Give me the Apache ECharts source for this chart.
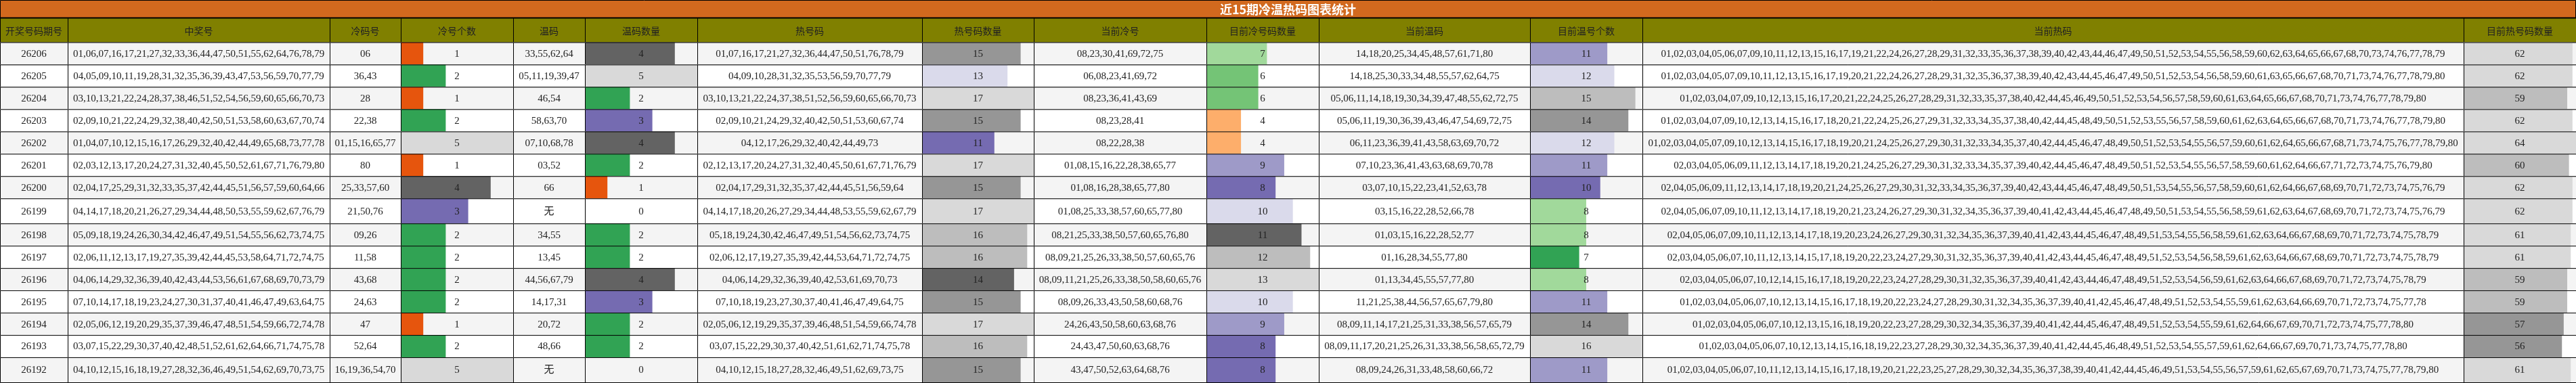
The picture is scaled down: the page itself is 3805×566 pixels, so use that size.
<!DOCTYPE html>
<html>
<head>
<meta charset="utf-8">
<title>近15期冷温热码图表统计</title>
<script src="https://cdn.jsdelivr.net/npm/echarts@6/dist/echarts.min.js"></script>
<style>
html, body { margin: 0; padding: 0; background: #fff; }
#main { width: 3805px; height: 566px; }
</style>
</head>
<body>
<div id="main"></div>
<script>
// 标题和表头
var tableTitle = '近15期冷温热码图表统计';
var headers = ['开奖号码期号', '中奖号', '冷码号', '冷号个数', '温码', '温码数量', '热号码', '热号码数量',
    '当前冷号', '目前冷号码数量', '当前温码', '目前温号个数', '当前热码', '目前热号码数量'];

// 期号
var issues = ['26206', '26205', '26204', '26203', '26202', '26201', '26200', '26199',
    '26198', '26197', '26196', '26195', '26194', '26193', '26192'];

// 中奖号
var winNums = [
    '01,06,07,16,17,21,27,32,33,36,44,47,50,51,55,62,64,76,78,79',
    '04,05,09,10,11,19,28,31,32,35,36,39,43,47,53,56,59,70,77,79',
    '03,10,13,21,22,24,28,37,38,46,51,52,54,56,59,60,65,66,70,73',
    '02,09,10,21,22,24,29,32,38,40,42,50,51,53,58,60,63,67,70,74',
    '01,04,07,10,12,15,16,17,26,29,32,40,42,44,49,65,68,73,77,78',
    '02,03,12,13,17,20,24,27,31,32,40,45,50,52,61,67,71,76,79,80',
    '02,04,17,25,29,31,32,33,35,37,42,44,45,51,56,57,59,60,64,66',
    '04,14,17,18,20,21,26,27,29,34,44,48,50,53,55,59,62,67,76,79',
    '05,09,18,19,24,26,30,34,42,46,47,49,51,54,55,56,62,73,74,75',
    '02,06,11,12,13,17,19,27,35,39,42,44,45,53,58,64,71,72,74,75',
    '04,06,14,29,32,36,39,40,42,43,44,53,56,61,67,68,69,70,73,79',
    '07,10,14,17,18,19,23,24,27,30,31,37,40,41,46,47,49,63,64,75',
    '02,05,06,12,19,20,29,35,37,39,46,47,48,51,54,59,66,72,74,78',
    '03,07,15,22,29,30,37,40,42,48,51,52,61,62,64,66,71,74,75,78',
    '04,10,12,15,16,18,19,27,28,32,36,46,49,51,54,62,69,70,73,75'
];

// 冷码号 / 冷号个数
var coldNums = ['06', '36,43', '28', '22,38', '01,15,16,65,77', '80', '25,33,57,60', '21,50,76',
    '09,26', '11,58', '43,68', '24,63', '47', '52,64', '16,19,36,54,70'];
var coldCount = [1, 2, 1, 2, 5, 1, 4, 3, 2, 2, 2, 2, 1, 2, 5];

// 温码 / 温码数量
var warmNums = ['33,55,62,64', '05,11,19,39,47', '46,54', '58,63,70', '07,10,68,78', '03,52', '66', '无',
    '34,55', '13,45', '44,56,67,79', '14,17,31', '20,72', '48,66', '无'];
var warmCount = [4, 5, 2, 3, 4, 2, 1, 0, 2, 2, 4, 3, 2, 2, 0];

// 热号码 / 热号码数量
var hotNums = [
    '01,07,16,17,21,27,32,36,44,47,50,51,76,78,79',
    '04,09,10,28,31,32,35,53,56,59,70,77,79',
    '03,10,13,21,22,24,37,38,51,52,56,59,60,65,66,70,73',
    '02,09,10,21,24,29,32,40,42,50,51,53,60,67,74',
    '04,12,17,26,29,32,40,42,44,49,73',
    '02,12,13,17,20,24,27,31,32,40,45,50,61,67,71,76,79',
    '02,04,17,29,31,32,35,37,42,44,45,51,56,59,64',
    '04,14,17,18,20,26,27,29,34,44,48,53,55,59,62,67,79',
    '05,18,19,24,30,42,46,47,49,51,54,56,62,73,74,75',
    '02,06,12,17,19,27,35,39,42,44,53,64,71,72,74,75',
    '04,06,14,29,32,36,39,40,42,53,61,69,70,73',
    '07,10,18,19,23,27,30,37,40,41,46,47,49,64,75',
    '02,05,06,12,19,29,35,37,39,46,48,51,54,59,66,74,78',
    '03,07,15,22,29,30,37,40,42,51,61,62,71,74,75,78',
    '04,10,12,15,18,27,28,32,46,49,51,62,69,73,75'
];
var hotCount = [15, 13, 17, 15, 11, 17, 15, 17, 16, 16, 14, 15, 17, 16, 15];

// 当前冷号 / 目前冷号码数量
var curCold = [
    '08,23,30,41,69,72,75',
    '06,08,23,41,69,72',
    '08,23,36,41,43,69',
    '08,23,28,41',
    '08,22,28,38',
    '01,08,15,16,22,28,38,65,77',
    '01,08,16,28,38,65,77,80',
    '01,08,25,33,38,57,60,65,77,80',
    '08,21,25,33,38,50,57,60,65,76,80',
    '08,09,21,25,26,33,38,50,57,60,65,76',
    '08,09,11,21,25,26,33,38,50,58,60,65,76',
    '08,09,26,33,43,50,58,60,68,76',
    '24,26,43,50,58,60,63,68,76',
    '24,43,47,50,60,63,68,76',
    '43,47,50,52,63,64,68,76'
];
var curColdCount = [7, 6, 6, 4, 4, 9, 8, 10, 11, 12, 13, 10, 9, 8, 8];

// 当前温码 / 目前温号个数
var curWarm = [
    '14,18,20,25,34,45,48,57,61,71,80',
    '14,18,25,30,33,34,48,55,57,62,64,75',
    '05,06,11,14,18,19,30,34,39,47,48,55,62,72,75',
    '05,06,11,19,30,36,39,43,46,47,54,69,72,75',
    '06,11,23,36,39,41,43,58,63,69,70,72',
    '07,10,23,36,41,43,63,68,69,70,78',
    '03,07,10,15,22,23,41,52,63,78',
    '03,15,16,22,28,52,66,78',
    '01,03,15,16,22,28,52,77',
    '01,16,28,34,55,77,80',
    '01,13,34,45,55,57,77,80',
    '11,21,25,38,44,56,57,65,67,79,80',
    '08,09,11,14,17,21,25,31,33,38,56,57,65,79',
    '08,09,11,17,20,21,25,26,31,33,38,56,58,65,72,79',
    '08,09,24,26,31,33,48,58,60,66,72'
];
var curWarmCount = [11, 12, 15, 14, 12, 11, 10, 8, 8, 7, 8, 11, 14, 16, 11];

// 当前热码 / 目前热号码数量
var curHot = [
    '01,02,03,04,05,06,07,09,10,11,12,13,15,16,17,19,21,22,24,26,27,28,29,31,32,33,35,36,37,38,39,40,42,43,44,46,47,49,50,51,52,53,54,55,56,58,59,60,62,63,64,65,66,67,68,70,73,74,76,77,78,79',
    '01,02,03,04,05,07,09,10,11,12,13,15,16,17,19,20,21,22,24,26,27,28,29,31,32,35,36,37,38,39,40,42,43,44,45,46,47,49,50,51,52,53,54,56,58,59,60,61,63,65,66,67,68,70,71,73,74,76,77,78,79,80',
    '01,02,03,04,07,09,10,12,13,15,16,17,20,21,22,24,25,26,27,28,29,31,32,33,35,37,38,40,42,44,45,46,49,50,51,52,53,54,56,57,58,59,60,61,63,64,65,66,67,68,70,71,73,74,76,77,78,79,80',
    '01,02,03,04,07,09,10,12,13,14,15,16,17,18,20,21,22,24,25,26,27,29,31,32,33,34,35,37,38,40,42,44,45,48,49,50,51,52,53,55,56,57,58,59,60,61,62,63,64,65,66,67,68,70,71,73,74,76,77,78,79,80',
    '01,02,03,04,05,07,09,10,12,13,14,15,16,17,18,19,20,21,24,25,26,27,29,30,31,32,33,34,35,37,40,42,44,45,46,47,48,49,50,51,52,53,54,55,56,57,59,60,61,62,64,65,66,67,68,71,73,74,75,76,77,78,79,80',
    '02,03,04,05,06,09,11,12,13,14,17,18,19,20,21,24,25,26,27,29,30,31,32,33,34,35,37,39,40,42,44,45,46,47,48,49,50,51,52,53,54,55,56,57,58,59,60,61,62,64,66,67,71,72,73,74,75,76,79,80',
    '02,04,05,06,09,11,12,13,14,17,18,19,20,21,24,25,26,27,29,30,31,32,33,34,35,36,37,39,40,42,43,44,45,46,47,48,49,50,51,53,54,55,56,57,58,59,60,61,62,64,66,67,68,69,70,71,72,73,74,75,76,79',
    '02,04,05,06,07,09,10,11,12,13,14,17,18,19,20,21,23,24,26,27,29,30,31,32,34,35,36,37,39,40,41,42,43,44,45,46,47,48,49,50,51,53,54,55,56,58,59,61,62,63,64,67,68,69,70,71,72,73,74,75,76,79',
    '02,04,05,06,07,09,10,11,12,13,14,17,18,19,20,23,24,26,27,29,30,31,32,34,35,36,37,39,40,41,42,43,44,45,46,47,48,49,51,53,54,55,56,58,59,61,62,63,64,66,67,68,69,70,71,72,73,74,75,78,79',
    '02,03,04,05,06,07,10,11,12,13,14,15,17,18,19,20,22,23,24,27,29,30,31,32,35,36,37,39,40,41,42,43,44,45,46,47,48,49,51,52,53,54,56,58,59,61,62,63,64,66,67,68,69,70,71,72,73,74,75,78,79',
    '02,03,04,05,06,07,10,12,14,15,16,17,18,19,20,22,23,24,27,28,29,30,31,32,35,36,37,39,40,41,42,43,44,46,47,48,49,51,52,53,54,56,59,61,62,63,64,66,67,68,69,70,71,72,73,74,75,78,79',
    '01,02,03,04,05,06,07,10,12,13,14,15,16,17,18,19,20,22,23,24,27,28,29,30,31,32,34,35,36,37,39,40,41,42,45,46,47,48,49,51,52,53,54,55,59,61,62,63,64,66,69,70,71,72,73,74,75,77,78',
    '01,02,03,04,05,06,07,10,12,13,15,16,18,19,20,22,23,27,28,29,30,32,34,35,36,37,39,40,41,42,44,45,46,47,48,49,51,52,53,54,55,59,61,62,64,66,67,69,70,71,72,73,74,75,77,78,80',
    '01,02,03,04,05,06,07,10,12,13,14,15,16,18,19,22,23,27,28,29,30,32,34,35,36,37,39,40,41,42,44,45,46,48,49,51,52,53,54,55,57,59,61,62,64,66,67,69,70,71,73,74,75,77,78,80',
    '01,02,03,04,05,06,07,10,11,12,13,14,15,16,17,18,19,20,21,22,23,25,27,28,29,30,32,34,35,36,37,38,39,40,41,42,44,45,46,49,51,53,54,55,56,57,59,61,62,65,67,69,70,71,73,74,75,77,78,79,80'
];
var curHotCount = [62, 62, 59, 62, 64, 60, 62, 62, 61, 61, 59, 59, 57, 56, 61];

// 布局（像素单位的列宽、行高）
var colWidths = [100, 387, 105, 166, 106, 166, 332, 165, 255, 166, 312, 166, 1213, 166];
var titleHeight = 26;
var headerTop = 27;
var headerBottom = 62.5;
var rowHeights = [33, 33, 33, 33, 33, 33, 33, 37, 33, 33, 33, 33, 33, 33, 37];

// 数据条配色 (d3 category20c)
var category20c = ['#3182bd', '#6baed6', '#9ecae1', '#c6dbef', '#e6550d', '#fd8d3c', '#fdae6b', '#fdd0a2',
    '#31a354', '#74c476', '#a1d99b', '#c7e9c0', '#756bb1', '#9e9ac8', '#bcbddc', '#dadaeb',
    '#636363', '#969696', '#bdbdbd', '#d9d9d9'];

function barColor(v, max) {
    var i = Math.floor(v / max * 20);
    if (i > 19) i = 19;
    return category20c[i];
}

var columns = [
    {data: issues}, {data: winNums}, {data: coldNums}, {data: coldCount, bar: true},
    {data: warmNums}, {data: warmCount, bar: true}, {data: hotNums}, {data: hotCount, bar: true},
    {data: curCold}, {data: curColdCount, bar: true}, {data: curWarm}, {data: curWarmCount, bar: true},
    {data: curHot}, {data: curHotCount, bar: true}
];
columns.forEach(function (col) {
    if (col.bar) col.max = Math.max.apply(null, col.data);
});

var colEdges = [0];
colWidths.forEach(function (w, i) { colEdges.push(colEdges[i] + w); });
var totalWidth = colEdges[colEdges.length - 1];
var rowEdges = [headerBottom];
rowHeights.forEach(function (h, i) { rowEdges.push(rowEdges[i] + h); });
var totalHeight = rowEdges[rowEdges.length - 1] + 1;

var cellFont = '15px "Liberation Serif", "Noto Sans CJK SC", serif';

// 单元格数据: [左, 上, 右, 下, 列, 行]
var cellData = [];
issues.forEach(function (issue, r) {
    for (var c = 0; c < columns.length; c++) {
        cellData.push([colEdges[c], rowEdges[r], colEdges[c + 1], rowEdges[r + 1], c, r]);
    }
});
var headerData = headers.map(function (h, c) {
    return [colEdges[c], headerTop, colEdges[c + 1], headerBottom, c];
});

function renderCell(params, api) {
    var x0 = api.value(0), x1 = api.value(2);
    var tl = api.coord([x0, api.value(1)]);
    var br = api.coord([x1, api.value(3)]);
    var c = api.value(4), r = api.value(5);
    var col = columns[c];
    var w = br[0] - tl[0], h = br[1] - tl[1];
    var children = [{
        type: 'rect',
        shape: {x: tl[0], y: tl[1], width: w, height: h},
        style: {fill: r % 2 ? '#ffffff' : '#f4f4f4'}
    }];
    var v = col.data[r];
    if (col.bar && v > 0) {
        var end = api.coord([x0 + (x1 - x0) * v / col.max, 0])[0];
        children.push({
            type: 'rect',
            shape: {x: tl[0], y: tl[1], width: end - tl[0], height: h},
            style: {fill: barColor(v, col.max)}
        });
    }
    children.push({
        type: 'rect',
        shape: {x: tl[0] + 0.5, y: tl[1] + 0.5, width: w, height: h},
        style: {fill: null, stroke: '#000', lineWidth: 1}
    });
    children.push({
        type: 'text',
        style: {
            text: String(v), x: tl[0] + w / 2, y: tl[1] + h / 2 + 1,
            align: 'center', verticalAlign: 'middle', font: cellFont, fill: '#222'
        }
    });
    return {type: 'group', children: children};
}

function renderHeader(params, api) {
    var tl = api.coord([api.value(0), api.value(1)]);
    var br = api.coord([api.value(2), api.value(3)]);
    var w = br[0] - tl[0], h = br[1] - tl[1];
    return {
        type: 'group',
        children: [{
            type: 'rect',
            shape: {x: tl[0] + 0.5, y: tl[1], width: w, height: h + 0.5},
            style: {fill: '#808000', stroke: '#000', lineWidth: 1}
        }, {
            type: 'text',
            style: {
                text: headers[api.value(4)], x: tl[0] + w / 2, y: tl[1] + h / 2 + 1,
                align: 'center', verticalAlign: 'middle',
                font: '14px "Noto Sans CJK SC", sans-serif', fill: '#222'
            }
        }]
    };
}

function renderTitle(params, api) {
    var tl = api.coord([api.value(0), api.value(1)]);
    var br = api.coord([api.value(2), api.value(3)]);
    var w = br[0] - tl[0], h = br[1] - tl[1];
    return {
        type: 'group',
        children: [{
            type: 'rect',
            shape: {x: tl[0] + 0.5, y: tl[1] + 0.5, width: w - 1, height: h},
            style: {fill: '#d2691e', stroke: '#000', lineWidth: 1}
        }, {
            type: 'line',
            shape: {x1: tl[0], y1: br[1] + 0.5, x2: br[0], y2: br[1] + 0.5},
            style: {stroke: '#000', lineWidth: 2}
        }, {
            type: 'text',
            style: {
                text: tableTitle, x: tl[0] + w / 2, y: tl[1] + h / 2 + 1,
                align: 'center', verticalAlign: 'middle',
                font: 'bold 18px "Noto Sans CJK SC", sans-serif', fill: '#fff'
            }
        }]
    };
}

var chart = echarts.init(document.getElementById('main'));
chart.setOption({
    animation: false,
    backgroundColor: '#fff',
    grid: {left: 0, right: 0, top: 0, bottom: 0},
    xAxis: {type: 'value', min: 0, max: totalWidth, show: false},
    yAxis: {type: 'value', min: 0, max: totalHeight, inverse: true, show: false},
    series: [{
        type: 'custom',
        name: 'title',
        renderItem: renderTitle,
        encode: {x: [0, 2], y: [1, 3]},
        data: [[0, 0, totalWidth, titleHeight]]
    }, {
        type: 'custom',
        name: 'header',
        renderItem: renderHeader,
        encode: {x: [0, 2], y: [1, 3]},
        data: headerData
    }, {
        type: 'custom',
        name: 'cells',
        renderItem: renderCell,
        encode: {x: [0, 2], y: [1, 3]},
        data: cellData
    }]
});
</script>
</body>
</html>
